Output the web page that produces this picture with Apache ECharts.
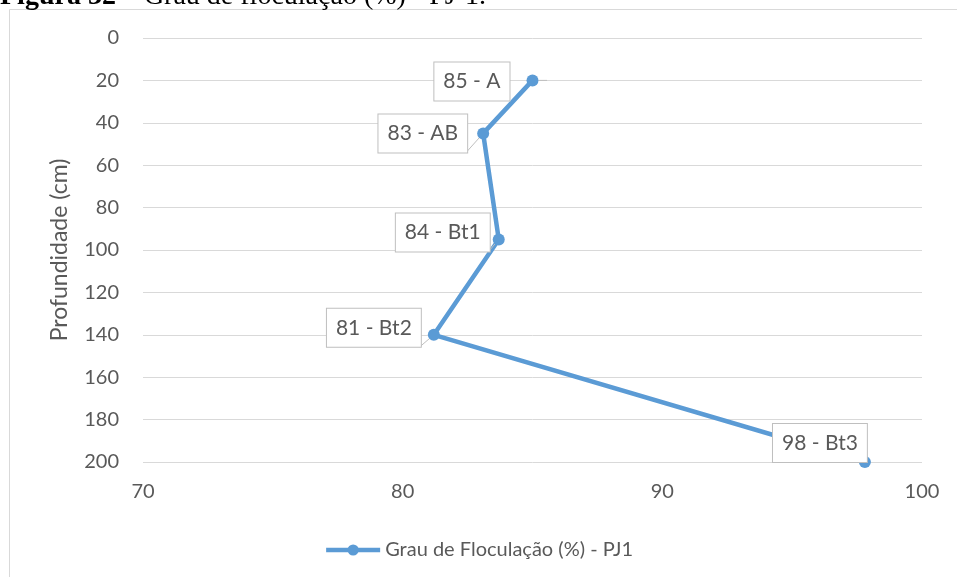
<!DOCTYPE html>
<html>
<head>
<meta charset="utf-8">
<script src="https://cdn.jsdelivr.net/npm/echarts@6/dist/echarts.min.js"></script>
<style>
  html, body { margin: 0; padding: 0; background: #ffffff; }
  #chart { width: 957px; height: 577px; }
</style>
</head>
<body>
<div id="chart"></div>
<script>
// Flocculation degree (%) by soil horizon, profile PJ1
const horizons = ['A', 'AB', 'Bt1', 'Bt2', 'Bt3'];
const flocculation = [85.0, 83.1, 83.7, 81.2, 97.8];
const depthCm = [20, 45, 95, 140, 200];
const depthTicks = [0, 20, 40, 60, 80, 100, 120, 140, 160, 180, 200];
const floccTicks = [70, 80, 90, 100];

// callout placement relative to each point: [dx, dy]
const calloutShift = [[-17, 1], [-10, 0], [-3, -7], [-7, -7], [8, -19]];

const FONT = 'Lato, "Open Sans", sans-serif';
const SERIF = '"Liberation Serif", "DejaVu Serif", serif';
const TEXT = '#595959';
const GRID = '#d9d9d9';
const BLUE = '#5b9bd5';
const SERIES_NAME = 'Grau de Floculação (%) - PJ1';

const points = flocculation.map((v, i) => ({
  value: [v, depthCm[i]],
  horizon: horizons[i],
  label: { offset: calloutShift[i] }
}));

const chart = echarts.init(document.getElementById('chart'), null, { renderer: 'canvas' });

chart.setOption({
  animation: false,
  backgroundColor: '#ffffff',
  textStyle: { fontFamily: FONT },
  title: {
    text: '{b|Figura 32} {r|– Grau de floculação (%) - PJ-1.}',
    left: 0,
    top: -17,
    padding: 0,
    textStyle: {
      fontSize: 28,
      fontFamily: SERIF,
      color: '#000000',
      rich: {
        b: { fontWeight: 'bold', fontSize: 28, fontFamily: SERIF, color: '#000000', lineHeight: 28 },
        r: { fontWeight: 'normal', fontSize: 28, fontFamily: SERIF, color: '#000000', lineHeight: 28 }
      }
    }
  },
  graphic: [
    {
      type: 'rect',
      shape: { x: 9.5, y: 9.5, width: 1200, height: 1200 },
      style: { fill: 'none', stroke: GRID, lineWidth: 1 },
      silent: true
    }
  ],
  grid: { left: 143, right: 35, top: 38, bottom: 115, containLabel: false },
  legend: {
    bottom: 12,
    left: 'center',
    itemWidth: 54,
    itemHeight: 14,
    itemGap: 10,
    lineStyle: { width: 4.5 },
    textStyle: { fontFamily: FONT, fontSize: 20, color: TEXT },
    data: [SERIES_NAME]
  },
  xAxis: {
    type: 'value',
    min: floccTicks[0],
    max: floccTicks[floccTicks.length - 1],
    interval: floccTicks[1] - floccTicks[0],
    position: 'bottom',
    axisLine: { show: false },
    axisTick: { show: false },
    splitLine: { show: false },
    axisLabel: { color: TEXT, fontSize: 20, fontFamily: FONT, margin: 20 }
  },
  yAxis: {
    type: 'value',
    inverse: true,
    min: depthTicks[0],
    max: depthTicks[depthTicks.length - 1],
    interval: depthTicks[1] - depthTicks[0],
    name: 'Profundidade (cm)',
    nameLocation: 'middle',
    nameGap: 72,
    nameRotate: 90,
    nameTextStyle: { color: TEXT, fontSize: 23, fontFamily: FONT },
    axisLine: { show: false },
    axisTick: { show: false },
    splitLine: { show: true, lineStyle: { color: GRID, width: 1 } },
    axisLabel: { color: TEXT, fontSize: 20, fontFamily: FONT, margin: 24 }
  },
  series: [{
    name: SERIES_NAME,
    type: 'line',
    data: points,
    symbol: 'circle',
    symbolSize: 12,
    itemStyle: { color: BLUE },
    lineStyle: { color: BLUE, width: 4.5 },
    label: {
      show: true,
      position: 'left',
      distance: 0,
      formatter: p => Math.round(p.value[0]) + ' - ' + p.data.horizon,
      color: TEXT,
      fontSize: 21,
      fontFamily: FONT,
      lineHeight: 24,
      backgroundColor: '#ffffff',
      borderColor: '#bfbfbf',
      borderWidth: 1,
      padding: [7, 9]
    },
    labelLine: { show: true, lineStyle: { color: '#bfbfbf', width: 1 } },
    z: 3
  }]
});
</script>
</body>
</html>
